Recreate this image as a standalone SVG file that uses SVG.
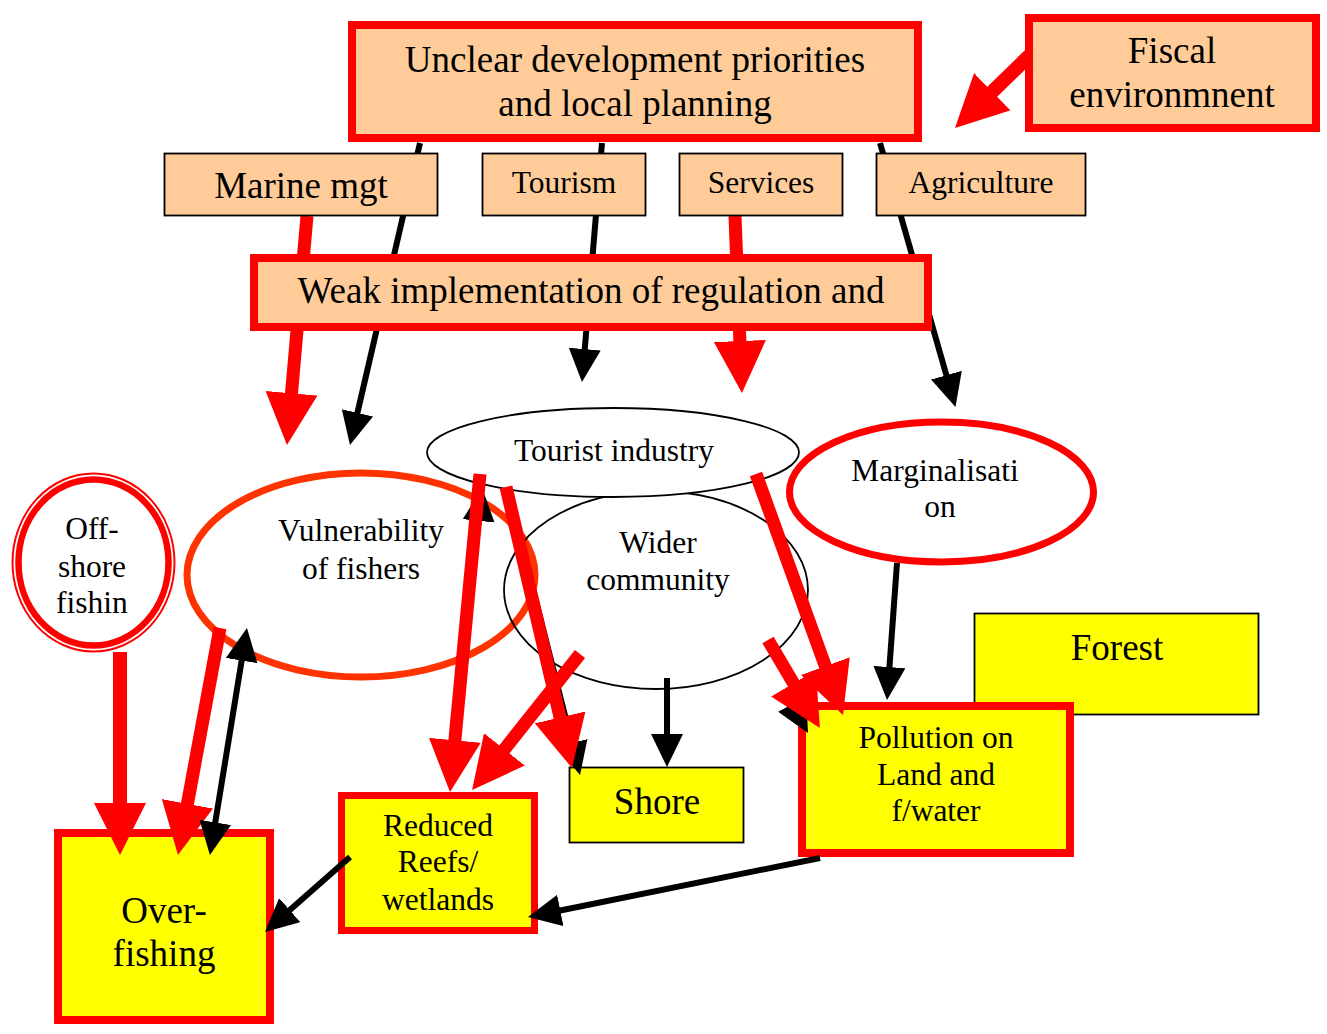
<svg xmlns="http://www.w3.org/2000/svg" width="1327" height="1034" viewBox="0 0 1327 1034">
  <style>
    text { font-family: "Liberation Serif", "Times New Roman", serif; text-anchor: middle; fill: #000; }
    .big { font-size: 37px; }
    .med { font-size: 31.5px; }
    .peach { fill: #FFCC99; }
    .yellow { fill: #FFFF00; }
    .thin { stroke: #000; stroke-width: 1.8; }
    .redbox { stroke: #FF0000; stroke-width: 8; }
    .redbox7 { stroke: #FF0000; stroke-width: 7; }
    .red { stroke: #FF0000; stroke-width: 13; fill: none; marker-end: url(#redHead); }
    .blk { stroke: #000; stroke-width: 6; fill: none; marker-end: url(#blkHead); }
  </style>
  <defs>
    <marker id="redHead" viewBox="0 0 52 52" refX="38" refY="26" markerWidth="52" markerHeight="52" markerUnits="userSpaceOnUse" orient="auto">
      <path d="M0,0 L52,26 L0,52 z" fill="#FF0000"/>
    </marker>
    <marker id="blkHead" viewBox="0 0 33 32" refX="24" refY="16" markerWidth="33" markerHeight="32" markerUnits="userSpaceOnUse" orient="auto-start-reverse">
      <path d="M0,0 L33,16 L0,32 z" fill="#000"/>
    </marker>
  </defs>

  <rect width="1327" height="1034" fill="#FFFFFF"/>

  <!-- lower layer: outcome nodes -->
  <g id="node-forest">
    <rect class="yellow thin" x="974.5" y="613.5" width="284" height="101"/>
    <text class="big" x="1117" y="660">Forest</text>
  </g>
  <g id="node-pollution">
    <rect class="yellow redbox" x="802" y="706" width="268" height="147"/>
    <text class="med" x="936" y="748">Pollution on</text>
    <text class="med" x="936" y="785">Land and</text>
    <text class="med" x="936" y="821">f/water</text>
  </g>
  <g id="node-shore">
    <rect class="yellow thin" x="569.5" y="767.5" width="174" height="75"/>
    <text class="big" x="657" y="814">Shore</text>
  </g>
  <g id="node-reefs">
    <rect class="yellow redbox7" x="341.5" y="795.5" width="193" height="135"/>
    <text class="med" x="438" y="836">Reduced</text>
    <text class="med" x="438" y="872">Reefs/</text>
    <text class="med" x="438" y="910">wetlands</text>
  </g>
  <g id="node-overfishing">
    <rect class="yellow redbox" x="58" y="833" width="212" height="187"/>
    <text class="big" x="164" y="923">Over-</text>
    <text class="big" x="164" y="966">fishing</text>
  </g>

  <g id="node-offshore">
    <ellipse cx="93.5" cy="562.5" rx="81" ry="89" fill="#FFFFFF" stroke="#FF0000" stroke-width="2"/>
    <ellipse cx="93.5" cy="562.5" rx="75" ry="83" fill="none" stroke="#FF0000" stroke-width="6.5"/>
    <text class="med" x="92" y="539">Off-</text>
    <text class="med" x="92" y="577">shore</text>
    <text class="med" x="92" y="613">fishin</text>
  </g>
  <g id="node-vulnerability">
    <ellipse cx="361" cy="575" rx="174" ry="102" fill="none" stroke="#FF3300" stroke-width="7"/>
    <text class="med" x="361" y="541">Vulnerability</text>
    <text class="med" x="361" y="579">of fishers</text>
  </g>
  <g id="node-wider">
    <ellipse cx="656" cy="590" rx="152" ry="99" fill="none" stroke="#000" stroke-width="1.8"/>
    <text class="med" x="658" y="553">Wider</text>
    <text class="med" x="658" y="590">community</text>
  </g>
  <g id="node-tourist">
    <ellipse cx="613" cy="452.5" rx="186" ry="44.5" fill="#FFFFFF" stroke="#000" stroke-width="1.8"/>
    <text class="med" x="614" y="461">Tourist industry</text>
  </g>
  <g id="node-marginalisation">
    <ellipse cx="941.5" cy="492" rx="152" ry="70" fill="#FFFFFF" stroke="#FF0000" stroke-width="7"/>
    <text class="med" x="935" y="481">Marginalisati</text>
    <text class="med" x="940" y="517">on</text>
  </g>

  <!-- connectors -->
  <g id="connectors">
    <!-- from the planning layer -->
    <line class="blk" x1="420" y1="143" x2="352" y2="436.2"/>
    <line class="blk" x1="602" y1="143" x2="582.75" y2="373"/>
    <line class="blk" x1="880" y1="143" x2="953" y2="398.3"/>
    <line class="red" x1="307" y1="216" x2="288.2" y2="431.1"/>
    <line class="red" x1="735" y1="216" x2="741.4" y2="379"/>
    <line class="red" x1="1030" y1="55" x2="965" y2="118.2" style="stroke-width:14"/>

    <!-- links lying under the thick red ones -->
    <line class="blk" x1="453" y1="760" x2="481.2" y2="497"/>
    <line class="blk" x1="508" y1="490" x2="577.8" y2="766.3"/>
    <line class="blk" x1="790" y1="700" x2="803.7" y2="725.1"/>

    <!-- fishing side -->
    <line class="red" x1="120" y1="652" x2="120" y2="841" style="stroke-width:14"/>
    <line class="red" x1="220" y1="628" x2="180.5" y2="841.2"/>
    <line class="blk" x1="245.5" y1="636.9" x2="211.4" y2="846.1" style="marker-start:url(#blkHead)"/>

    <!-- tourism and community effects -->
    <line class="red" x1="480" y1="474" x2="451.3" y2="778.1"/>
    <line class="red" x1="506" y1="487" x2="568.8" y2="754.4"/>
    <line class="red" x1="580" y1="654" x2="480.8" y2="779.1"/>
    <line class="blk" x1="667" y1="678" x2="667" y2="758"/>
    <line class="red" x1="756" y1="474" x2="838.2" y2="701.9"/>
    <line class="red" x1="768" y1="640" x2="812.8" y2="716"/>
    <line class="blk" x1="897" y1="563" x2="887.7" y2="691"/>

    <!-- downstream effects -->
    <line class="blk" x1="820" y1="858" x2="536.8" y2="915.2"/>
    <line class="blk" x1="350" y1="857" x2="271.7" y2="926"/>
  </g>

  <!-- upper layer: planning and sector nodes -->
  <g id="node-unclear">
    <rect class="peach redbox" x="352" y="25" width="566" height="113"/>
    <text class="big" x="635" y="72">Unclear development priorities</text>
    <text class="big" x="635" y="116">and local planning</text>
  </g>
  <g id="node-fiscal">
    <rect class="peach redbox" x="1029" y="18" width="287" height="110"/>
    <text class="big" x="1172" y="63">Fiscal</text>
    <text class="big" x="1172" y="107">environmnent</text>
  </g>
  <g id="node-marine">
    <rect class="peach thin" x="164.5" y="153.5" width="273" height="62"/>
    <text class="big" x="301" y="198">Marine mgt</text>
  </g>
  <g id="node-tourism">
    <rect class="peach thin" x="482.5" y="153.5" width="163" height="62"/>
    <text class="med" x="564" y="193">Tourism</text>
  </g>
  <g id="node-services">
    <rect class="peach thin" x="679.5" y="153.5" width="163" height="62"/>
    <text class="med" x="761" y="193">Services</text>
  </g>
  <g id="node-agriculture">
    <rect class="peach thin" x="876.5" y="153.5" width="209" height="62"/>
    <text class="med" x="981" y="193">Agriculture</text>
  </g>
  <g id="node-weak">
    <rect class="peach redbox" x="254" y="258" width="674" height="69"/>
    <text class="big" x="591" y="303">Weak implementation of regulation and</text>
  </g>
</svg>
